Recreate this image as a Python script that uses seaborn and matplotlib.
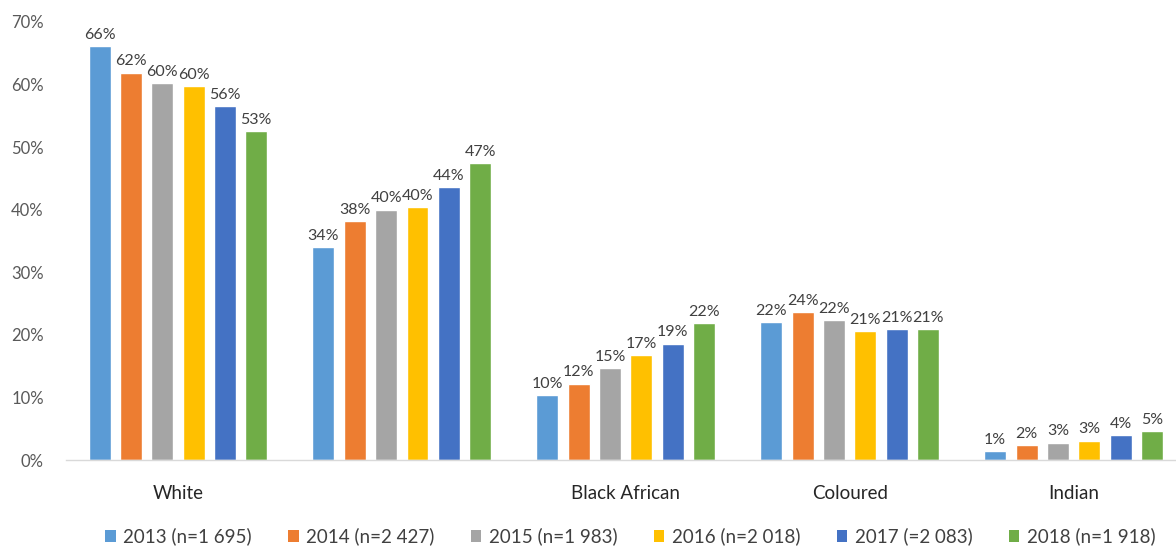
import numpy as np
import pandas as pd
import matplotlib
matplotlib.use("Agg")
import matplotlib.pyplot as plt
import seaborn as sns
from matplotlib.patches import Patch

categories = ["White", " ", "Black African", "Coloured", "Indian"]
series = ["2013 (n=1 695)", "2014 (n=2 427)", "2015 (n=1 983)",
          "2016 (n=2 018)", "2017 (=2 083)", "2018 (n=1 918)"]
v2013 = [66.1, 34.0, 10.4, 22.1, 1.4]
v2014 = [61.9, 38.2, 12.2, 23.6, 2.4]
v2015 = [60.2, 40.0, 14.7, 22.3, 2.8]
v2016 = [59.7, 40.4, 16.7, 20.6, 3.1]
v2017 = [56.5, 43.6, 18.6, 20.9, 4.0]
v2018 = [52.6, 47.4, 21.9, 20.9, 4.6]
yticks = [0, 10, 20, 30, 40, 50, 60, 70]
colors = ["#5B9BD5", "#ED7D31", "#A5A5A5", "#FFC000", "#4472C4", "#70AD47"]

sns.set_style("white")
plt.rcParams['font.family'] = ['Lato', 'DejaVu Sans']

rows = []
for s, vals in zip(series, [v2013, v2014, v2015, v2016, v2017, v2018]):
    for c, v in zip(categories, vals):
        rows.append({"cat": c, "series": s, "value": v})
df = pd.DataFrame(rows)

fig = plt.figure(figsize=(11.76, 5.47), dpi=100)
ax = fig.add_axes([0.0561, 0.159, 0.952, 0.801])
sns.barplot(data=df, x="cat", y="value", hue="series", order=categories,
            hue_order=series, palette=colors, width=0.84, gap=0.3,
            ax=ax, legend=False, saturation=1, errorbar=None)

for cont in ax.containers:
    labels = [f"{b.get_height():.0f}%" for b in cont]
    ax.bar_label(cont, labels=labels, padding=3, fontsize=11.5, color="#404040")

ax.set_ylim(0, 70)
ax.set_xlim(-0.5, 4.5)
ax.set_yticks(yticks)
ax.set_yticklabels([f"{t}%" for t in yticks])
ax.set_xlabel("")
ax.set_ylabel("")
ax.tick_params(axis='y', labelsize=12, colors="#595959", length=0, pad=16)
ax.tick_params(axis='x', labelsize=13.5, colors="#262626", length=0, pad=18)
for sp in ["top", "right", "left"]:
    ax.spines[sp].set_visible(False)
ax.spines["bottom"].set_color("#D9D9D9")
ax.spines["bottom"].set_linewidth(1)

handles = [Patch(facecolor=c, edgecolor='none') for c in colors]
fig.legend(handles, series, loc="center", bbox_to_anchor=(0.536, 0.019),
           ncol=6, frameon=False, fontsize=13.5, handlelength=0.55,
           handleheight=0.55, handletextpad=0.4, columnspacing=1.95,
           labelcolor="#404040")

fig.savefig("out.png", dpi=100)
